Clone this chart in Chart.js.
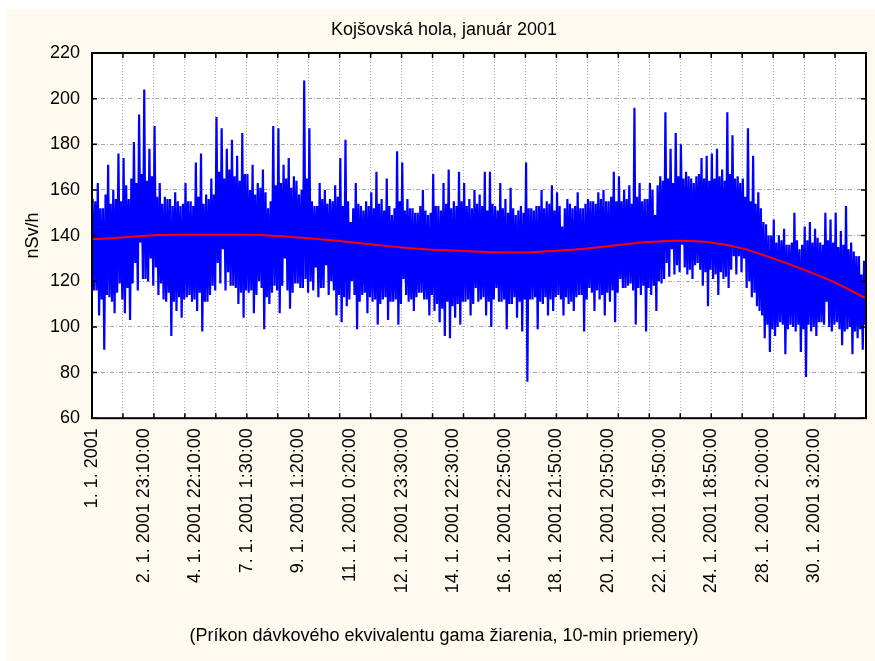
<!DOCTYPE html>
<html>
<head>
<meta charset="utf-8">
<title>Kojšovská hola, január 2001</title>
<script src="https://cdn.jsdelivr.net/npm/chart.js@4.4.1/dist/chart.umd.min.js"></script>
<style>
  html, body { margin: 0; padding: 0; background: #ffffff; }
  #chart { display: block; }
</style>
</head>
<body>
<canvas id="chart" width="875" height="661"></canvas>
<script>
// tick labels under the time axis (one every 50 axis units)
const dateLabels = [
    '1. 1. 2001', '2. 1. 2001 23:10:00', '4. 1. 2001 22:10:00', '7. 1. 2001 1:30:00',
    '9. 1. 2001 1:20:00', '11. 1. 2001 0:20:00', '12. 1. 2001 23:30:00', '14. 1. 2001 22:30:00',
    '16. 1. 2001 22:50:00', '18. 1. 2001 21:50:00', '20. 1. 2001 20:50:00', '22. 1. 2001 19:50:00',
    '24. 1. 2001 18:50:00', '28. 1. 2001 2:00:00', '30. 1. 2001 3:20:00'
];

// 10-min averages, alternating upper / lower swings (nSv/h)
// one row = one grid interval (12 values)
const peakVals = [
    156, 155, 163, 152, 152, 158, 171, 154, 160, 156, 176, 155,
    174, 162, 156, 165, 181, 163, 193, 167, 204, 164, 178, 166,
    188, 157, 163, 154, 157, 156, 156, 153, 159, 155, 153, 154,
    163, 155, 155, 153, 172, 157, 176, 154, 158, 156, 165, 158,
    192, 168, 187, 165, 178, 169, 182, 166, 175, 164, 185, 167,
    167, 160, 171, 158, 163, 161, 169, 159, 152, 155, 188, 162,
    187, 163, 171, 165, 174, 161, 166, 164, 158, 160, 208, 165,
    187, 155, 153, 153, 163, 156, 160, 154, 156, 155, 162, 157,
    174, 153, 182, 155, 146, 152, 163, 154, 153, 151, 155, 153,
    159, 152, 168, 154, 156, 151, 165, 153, 149, 152, 177, 155,
    172, 151, 156, 152, 152, 150, 150, 153, 160, 151, 149, 150,
    167, 153, 153, 151, 163, 154, 169, 152, 155, 153, 168, 155,
    163, 153, 156, 152, 160, 154, 158, 153, 168, 151, 168, 154,
    153, 151, 163, 152, 156, 150, 161, 152, 149, 151, 153, 150,
    172, 152, 152, 151, 153, 153, 160, 152, 155, 154, 162, 151,
    159, 153, 144, 152, 156, 154, 152, 153, 159, 152, 152, 154,
    156, 155, 155, 154, 159, 156, 160, 155, 155, 157, 168, 155,
    166, 155, 160, 156, 162, 154, 196, 157, 163, 155, 156, 156,
    163, 160, 149, 162, 166, 164, 194, 165, 178, 163, 185, 166,
    180, 165, 168, 166, 165, 163, 166, 167, 174, 165, 175, 164,
    176, 165, 178, 166, 169, 164, 194, 167, 184, 165, 166, 163,
    165, 157, 187, 155, 175, 154, 159, 152, 146, 145, 140, 140,
    147, 137, 140, 138, 143, 136, 136, 137, 150, 138, 134, 136,
    144, 138, 146, 137, 143, 139, 137, 136, 150, 138, 147, 137,
    150, 135, 142, 136, 153, 134, 137, 133, 131, 131, 123, 129
];
const dipVals = [
    116, 116, 105, 112, 90, 114, 113, 111, 106, 115, 119, 112,
    106, 117, 103, 119, 128, 116, 137, 121, 121, 120, 130, 118,
    126, 114, 119, 112, 111, 115, 96, 111, 107, 113, 104, 112,
    113, 114, 111, 112, 107, 115, 98, 111, 111, 114, 118, 116,
    128, 119, 134, 116, 124, 118, 118, 117, 110, 115, 104, 116,
    115, 116, 106, 114, 120, 117, 99, 113, 110, 115, 118, 116,
    106, 118, 130, 116, 108, 115, 119, 119, 117, 117, 121, 115,
    120, 116, 126, 113, 117, 117, 127, 114, 120, 116, 105, 114,
    102, 113, 109, 112, 120, 114, 99, 111, 114, 115, 106, 113,
    111, 112, 101, 110, 112, 113, 103, 111, 111, 112, 101, 110,
    121, 114, 111, 112, 107, 113, 115, 115, 112, 112, 105, 114,
    107, 110, 102, 108, 96, 111, 95, 109, 104, 110, 101, 111,
    111, 112, 105, 110, 117, 111, 112, 113, 105, 111, 100, 112,
    117, 111, 111, 112, 99, 110, 110, 113, 104, 111, 98, 112,
    76, 112, 112, 113, 99, 111, 110, 113, 105, 112, 107, 113,
    114, 112, 105, 113, 110, 111, 107, 113, 114, 114, 98, 112,
    117, 115, 107, 116, 112, 114, 105, 115, 111, 116, 102, 115,
    121, 117, 117, 118, 119, 116, 101, 117, 114, 118, 98, 117,
    114, 118, 107, 120, 119, 121, 128, 122, 134, 123, 127, 124,
    136, 126, 123, 125, 121, 127, 128, 125, 118, 124, 109, 125,
    121, 123, 114, 124, 121, 122, 117, 125, 131, 123, 131, 124,
    130, 117, 120, 113, 115, 109, 107, 105, 95, 101, 89, 99,
    96, 100, 102, 101, 88, 99, 101, 100, 98, 101, 89, 99,
    78, 101, 98, 100, 96, 102, 102, 101, 111, 100, 98, 101,
    102, 99, 92, 98, 99, 100, 88, 98, 95, 99, 90, 101
];

// smoothed trend (red), one value per grid line
const trendVals = [
    138.4, 139.2, 140.2, 140.4, 140.4, 140.4, 139.8, 138.8, 137.6, 136.2,
    134.8, 133.8, 133.3, 132.7, 132.6, 133.4, 134.4, 135.9, 137.2, 137.7,
    137.0, 134.4, 130.0, 125.0, 119.4, 112.5
];

const AXIS_MAX = 750;   // 15 label steps of 50, 25 grid steps of 30
const LABEL_STEP = 50;
const GRID_STEP = 30;

// peaks and dips alternate along the axis
const half = AXIS_MAX / (2 * peakVals.length);
const seriesPoints = [];
for (let i = 0; i < peakVals.length; i++) {
    seriesPoints.push({ x: (2 * i + 0.5) * half, y: peakVals[i] });
    seriesPoints.push({ x: (2 * i + 1.5) * half, y: dipVals[i] });
}
const trendPoints = trendVals.map((v, k) => ({ x: k * GRID_STEP, y: v }));

const FONT = { family: '"Liberation Sans", Arial, sans-serif', size: 18 };
const GRID_COLOR = '#a8a8a8';

// cream panel, white plot area
const backgroundPlugin = {
    id: 'panel',
    beforeDraw(chart) {
        const c = chart.ctx;
        const a = chart.chartArea;
        c.save();
        c.fillStyle = '#ffffff';
        c.fillRect(0, 0, chart.width, chart.height);
        c.fillStyle = '#fffaf0';
        c.fillRect(7, 9, chart.width - 7, chart.height - 9);
        c.fillStyle = '#ffffff';
        c.fillRect(a.left, a.top, a.right - a.left, a.bottom - a.top);
        c.restore();
    }
};

// black frame round the plot with short inward tick marks
const framePlugin = {
    id: 'frame',
    afterDatasetsDraw(chart) {
        const c = chart.ctx;
        const a = chart.chartArea;
        const xs = chart.scales.x;
        const ys = chart.scales.y;
        c.save();
        c.strokeStyle = '#000000';
        c.lineWidth = 1.5;
        c.beginPath();
        xs.ticks.forEach(t => {
            if (t.value % GRID_STEP !== 0) return;
            const px = xs.getPixelForValue(t.value);
            c.moveTo(px, a.bottom); c.lineTo(px, a.bottom - 5);
            c.moveTo(px, a.top); c.lineTo(px, a.top + 5);
        });
        ys.ticks.forEach(t => {
            const py = ys.getPixelForValue(t.value);
            c.moveTo(a.left, py); c.lineTo(a.left + 5, py);
            c.moveTo(a.right, py); c.lineTo(a.right - 5, py);
        });
        c.stroke();
        c.lineWidth = 2;
        c.strokeRect(a.left, a.top, a.right - a.left, a.bottom - a.top);
        c.restore();
    }
};

new Chart(document.getElementById('chart'), {
    type: 'line',
    data: {
        datasets: [
            {
                label: 'trend',
                data: trendPoints,
                borderColor: '#ff0000',
                borderWidth: 2,
                pointRadius: 0,
                cubicInterpolationMode: 'monotone',
                order: 0
            },
            {
                label: 'nSv/h',
                data: seriesPoints,
                borderColor: '#0000ff',
                borderWidth: 2.2,
                pointRadius: 0,
                tension: 0,
                order: 1
            }
        ]
    },
    options: {
        responsive: false,
        animation: false,
        devicePixelRatio: 1,
        layout: { padding: { left: 22, right: 9, top: 0, bottom: 0 } },
        plugins: {
            legend: { display: false },
            tooltip: { enabled: false },
            title: {
                display: true,
                text: 'Kojšovská hola, január 2001',
                color: '#000000',
                font: { ...FONT, weight: 'normal' },
                padding: { top: 19, bottom: 12.4 }
            },
            subtitle: {
                display: true,
                position: 'bottom',
                text: '(Príkon dávkového ekvivalentu gama žiarenia, 10-min priemery)',
                color: '#000000',
                font: FONT,
                padding: { top: 2, bottom: 14 }
            }
        },
        scales: {
            x: {
                type: 'linear',
                min: 0,
                max: AXIS_MAX,
                border: { display: false, dash: [1, 2] },
                grid: {
                    drawTicks: false,
                    color: ctx => (ctx.tick && ctx.tick.value % GRID_STEP === 0) ? GRID_COLOR : 'rgba(0,0,0,0)'
                },
                ticks: {
                    stepSize: 10,
                    autoSkip: false,
                    minRotation: 90,
                    maxRotation: 90,
                    padding: 10,
                    color: '#000000',
                    font: FONT,
                    callback: value => (value % LABEL_STEP === 0 && dateLabels[value / LABEL_STEP]) || ''
                },
                afterFit(scale) {
                    scale.height = 205.2;
                    scale.paddingLeft = 0;
                    scale.paddingRight = 0;
                }
            },
            y: {
                min: 60,
                max: 220,
                border: { display: false, dash: [4, 2, 1, 2] },
                grid: {
                    drawTicks: false,
                    color: GRID_COLOR
                },
                ticks: {
                    stepSize: 20,
                    padding: 12,
                    color: '#000000',
                    font: FONT
                },
                title: {
                    display: true,
                    text: 'nSv/h',
                    color: '#000000',
                    font: FONT,
                    padding: 0
                },
                afterFit(scale) {
                    scale.width = 70;
                }
            }
        }
    },
    plugins: [backgroundPlugin, framePlugin]
});
</script>
</body>
</html>
